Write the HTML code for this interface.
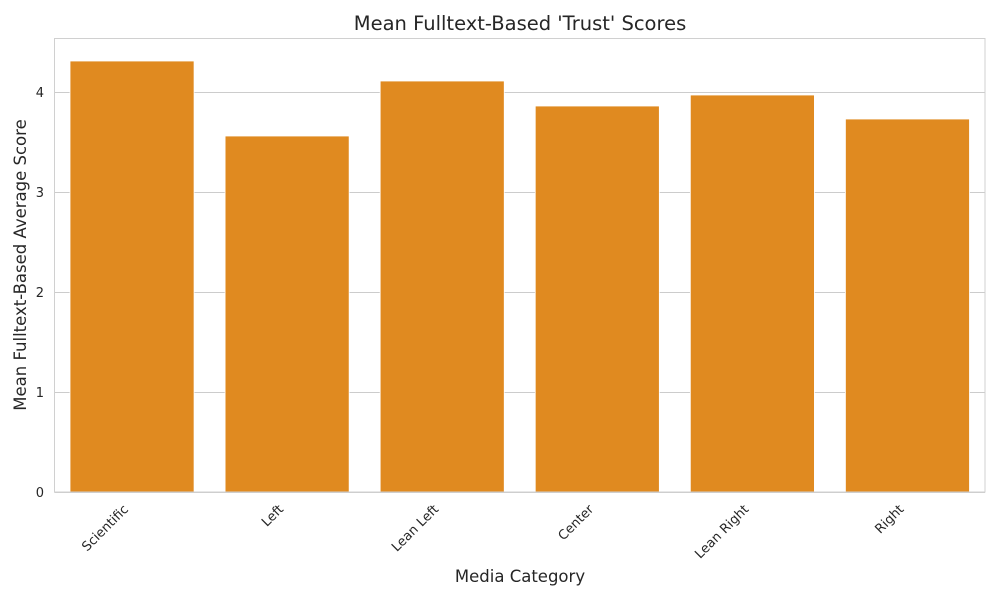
<!DOCTYPE html>
<html><head><meta charset="utf-8">
<style>
body{margin:0;background:#fff;font-family:"Liberation Sans","DejaVu Sans",sans-serif;}
svg text{font-family:"DejaVu Sans","Liberation Sans",sans-serif;fill:#262626;}
</style></head>
<body>
<svg id="chart" width="1000" height="600" xmlns="http://www.w3.org/2000/svg">
<rect width="1000" height="600" fill="#fff"/>
<g id="grid"></g>
<g id="bars"></g>
<rect x="54.5" y="38.5" width="930.5" height="453.5" fill="none" stroke="#d0d0d0" stroke-width="1"/>
<g id="yticks"></g>
<g id="xticks"></g>
<text x="520" y="30" font-size="19.5" text-anchor="middle">Mean Fulltext-Based 'Trust' Scores</text>
<text x="520" y="582" font-size="16.5" text-anchor="middle">Media Category</text>
<text transform="translate(26,265) rotate(-90)" font-size="16.5" text-anchor="middle">Mean Fulltext-Based Average Score</text>
</svg>
<script>
const categories=["Scientific","Left","Lean Left","Center","Lean Right","Right"];
const values=[4.31,3.56,4.11,3.86,3.97,3.73];
const yTicks=[0,1,2,3,4];
const X0=54.5,X1=985,Y0=492,PX=100;
const y=v=>Y0-v*PX;
const band=(X1-X0)/categories.length;
const x=i=>X0+band*i+band*0.1;
const NS="http://www.w3.org/2000/svg";
const mk=(t,a,p)=>{const e=document.createElementNS(NS,t);for(const k in a)e.setAttribute(k,a[k]);p.appendChild(e);return e;};
const grid=document.getElementById('grid'),yt=document.getElementById('yticks'),bars=document.getElementById('bars'),xt=document.getElementById('xticks');
yTicks.forEach(v=>{
 const l=mk('line',{x1:X0,x2:X1,y1:y(v)+0.5,y2:y(v)+0.5,stroke:'#cccccc','stroke-width':1},grid);
 
 
 const t=mk('text',{x:44,y:y(v)+5,'font-size':13,'text-anchor':'end'},yt);
 t.textContent=v;
 
 
});
categories.forEach((c,i)=>{
 const r=mk('rect',{x:x(i),y:y(values[i]),width:band*0.8,height:values[i]*PX,fill:'#e08a20',stroke:'#fff','stroke-width':0.8},bars);
 
 
 const cx=X0+band*(i+0.5)-3;
 const t=mk('text',{x:cx,y:510,'font-size':13,'text-anchor':'end',transform:`rotate(-45 ${cx} 510)`},xt);
 t.textContent=c;
 
 
});
</script>
</body></html>
